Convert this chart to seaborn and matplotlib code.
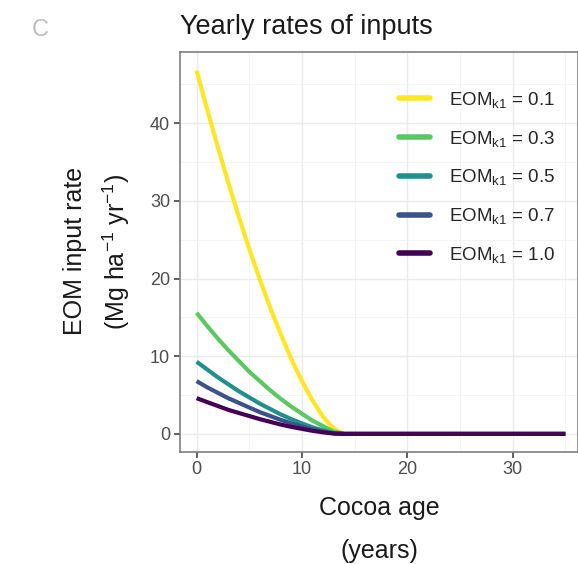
import numpy as np
import pandas as pd
import matplotlib
matplotlib.use("Agg")
import matplotlib.pyplot as plt
import seaborn as sns

# values (Mg ha-1 yr-1), flat at 0 after age 14
ages = [0, 1, 2, 3, 4, 5, 6, 7, 8, 9, 10, 11, 12, 13, 14, 35]
eom_01 = [46.8, 41.8, 37.0, 32.4, 28.0, 23.8, 19.9, 16.2, 12.8, 9.6, 6.8, 4.3, 2.2, 0.7, 0.0, 0.0]
eom_03 = [15.6, 13.9, 12.3, 10.8, 9.4, 8.0, 6.8, 5.6, 4.5, 3.5, 2.6, 1.7, 1.0, 0.3, 0.0, 0.0]
eom_05 = [9.3, 8.3, 7.3, 6.4, 5.5, 4.7, 3.9, 3.2, 2.5, 1.9, 1.35, 0.85, 0.45, 0.12, 0.0, 0.0]
eom_07 = [6.8, 6.0, 5.3, 4.6, 4.0, 3.4, 2.8, 2.3, 1.8, 1.35, 0.95, 0.6, 0.3, 0.08, 0.0, 0.0]
eom_10 = [4.6, 4.1, 3.6, 3.1, 2.7, 2.3, 1.9, 1.55, 1.2, 0.9, 0.65, 0.4, 0.2, 0.05, 0.0, 0.0]

labels = ["EOM$_{k1}$ = 0.1", "EOM$_{k1}$ = 0.3", "EOM$_{k1}$ = 0.5",
          "EOM$_{k1}$ = 0.7", "EOM$_{k1}$ = 1.0"]
colors = ["#FDE725", "#5DC863", "#21908C", "#3B528B", "#440154"]

df = pd.concat([
    pd.DataFrame({"age": ages, "rate": vals, "k1": lab})
    for vals, lab in zip([eom_01, eom_03, eom_05, eom_07, eom_10], labels)
])

sns.set_style("whitegrid")
plt.rcParams["font.family"] = ["Liberation Sans", "DejaVu Sans"]
plt.rcParams["mathtext.fontset"] = "custom"
plt.rcParams["mathtext.rm"] = "Liberation Sans"
plt.rcParams["mathtext.it"] = "Liberation Sans"

fig = plt.figure(figsize=(5.78, 5.64), dpi=100)
ax = fig.add_axes([0.311, 0.199, 0.689, 0.709])

sns.lineplot(data=df, x="age", y="rate", hue="k1", hue_order=labels,
             palette=colors, linewidth=3, ax=ax, legend=False,
             estimator=None, sort=False)
for line in ax.lines:
    line.set_solid_capstyle("butt")

ax.set_xlim(-1.6, 36.2)
ax.set_ylim(-2.3, 49.2)
ax.set_xticks([0, 10, 20, 30])
ax.set_yticks([0, 10, 20, 30, 40])
ax.set_xticks([5, 15, 25, 35], minor=True)
ax.set_yticks([5, 15, 25, 35, 45], minor=True)
ax.grid(which="major", color="#ebebeb", linewidth=1.0)
ax.grid(which="minor", color="#f2f2f2", linewidth=0.6)
ax.tick_params(which="major", direction="out", length=4, width=1.1,
               color="#333333", labelcolor="#4d4d4d", labelsize=13, pad=3,
               bottom=True, left=True)
ax.tick_params(which="minor", length=0)
for s in ax.spines.values():
    s.set_color("#7f7f7f")
    s.set_linewidth(1.2)
ax.set_xlabel("")
ax.set_ylabel("")

# legend built by hand from the same palette
handles = [plt.Line2D([], [], color=c, linewidth=4) for c in colors]
ax.legend(handles, labels, loc="upper left", bbox_to_anchor=(0.55, 0.905),
          frameon=False, fontsize=13.5, handlelength=1.65, handletextpad=1.05,
          labelspacing=1.0, borderaxespad=0, borderpad=0)

fig.text(0.311, 0.952, "Yearly rates of inputs", fontsize=19.5, color="#1a1a1a",
         ha="left", va="center")
fig.text(0.07, 0.947, "C", fontsize=17, color="#bdbdbd", ha="center", va="center")
fig.text(0.13, 0.555, "EOM input rate", rotation=90, fontsize=18,
         color="#1a1a1a", ha="center", va="center")
fig.text(0.202, 0.553, "(Mg ha$^{-1}$ yr$^{-1}$)", rotation=90, fontsize=18,
         color="#1a1a1a", ha="center", va="center")
fig.text(0.657, 0.099, "Cocoa age", fontsize=18, color="#1a1a1a",
         ha="center", va="center")
fig.text(0.657, 0.023, "(years)", fontsize=18, color="#1a1a1a",
         ha="center", va="center")

fig.savefig("out.png", dpi=100)
